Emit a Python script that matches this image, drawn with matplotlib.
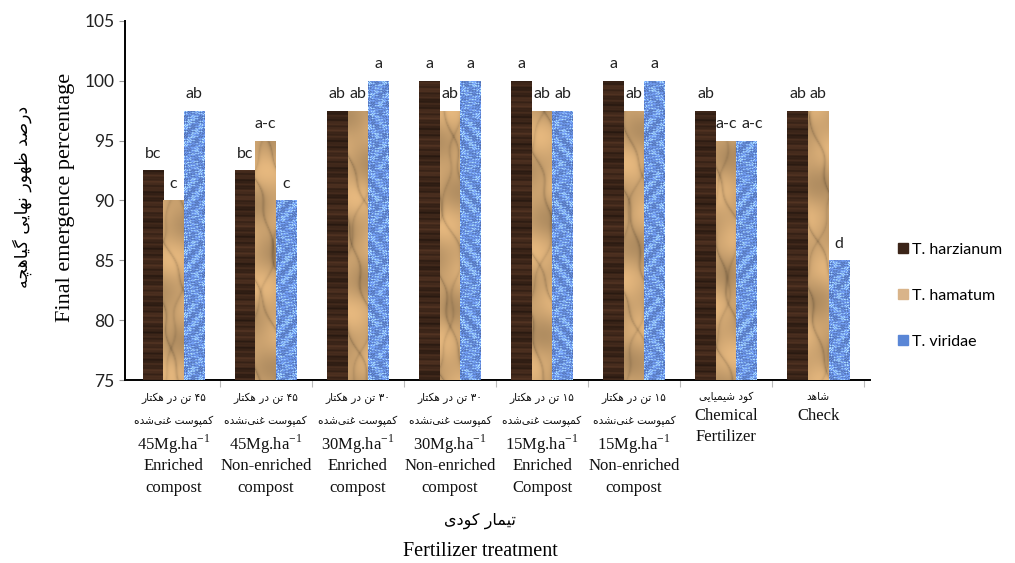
import numpy as np
import matplotlib
matplotlib.use("Agg")
import matplotlib.pyplot as plt
from matplotlib.lines import Line2D

plt.rcParams['mathtext.fontset'] = 'custom'
plt.rcParams['mathtext.rm'] = 'Liberation Serif'

# ---- data ----
groups = ['45E', '45N', '30E', '30N', '15E', '15N', 'chem', 'check']
harzianum = [92.5, 92.5, 97.5, 100, 100, 100, 97.5, 97.5]
hamatum = [90, 95, 97.5, 97.5, 97.5, 97.5, 95, 97.5]
viridae = [97.5, 90, 100, 100, 97.5, 100, 95, 85]
harz_letters = ['bc', 'bc', 'ab', 'a', 'a', 'a', 'ab', 'ab']
ham_letters = ['c', 'a-c', 'ab', 'ab', 'ab', 'ab', 'a-c', 'ab']
vir_letters = ['ab', 'c', 'a', 'a', 'ab', 'a', 'a-c', 'd']
species = ['T. harzianum', 'T. hamatum', 'T. viridae']

# tick label lines: (persian lines, english lines)
tick_lines = [
    (['۴۵ تن در هکتار', 'کمپوست غنی\u200cشده'], ['45Mg.ha$^{-1}$', 'Enriched', 'compost']),
    (['۴۵ تن در هکتار', 'کمپوست غنی\u200cنشده'], ['45Mg.ha$^{-1}$', 'Non-enriched', 'compost']),
    (['۳۰ تن در هکتار', 'کمپوست غنی\u200cشده'], ['30Mg.ha$^{-1}$', 'Enriched', 'compost']),
    (['۳۰ تن در هکتار', 'کمپوست غنی\u200cنشده'], ['30Mg.ha$^{-1}$', 'Non-enriched', 'compost']),
    (['۱۵ تن در هکتار', 'کمپوست غنی\u200cشده'], ['15Mg.ha$^{-1}$', 'Enriched', 'Compost']),
    (['۱۵ تن در هکتار', 'کمپوست غنی\u200cنشده'], ['15Mg.ha$^{-1}$', 'Non-enriched', 'compost']),
    (['کود شیمیایی'], ['Chemical', 'Fertilizer']),
    (['شاهد'], ['Check']),
]
ylabel_fa = 'درصد ظهور نهایی گیاهچه'
xlabel_fa = 'تیمار کودی'

# ---- minimal Persian shaping (isolated, final, initial, medial) ----
FORMS = {
    '\u0627': ('\uFE8D', '\uFE8E', None, None),
    '\u062A': ('\uFE95', '\uFE96', '\uFE97', '\uFE98'),
    '\u0686': ('\uFB7A', '\uFB7B', '\uFB7C', '\uFB7D'),
    '\u062F': ('\uFEA9', '\uFEAA', None, None),
    '\u0631': ('\uFEAD', '\uFEAE', None, None),
    '\u0633': ('\uFEB1', '\uFEB2', '\uFEB3', '\uFEB4'),
    '\u0634': ('\uFEB5', '\uFEB6', '\uFEB7', '\uFEB8'),
    '\u0635': ('\uFEB9', '\uFEBA', '\uFEBB', '\uFEBC'),
    '\u0638': ('\uFEC5', '\uFEC6', '\uFEC7', '\uFEC8'),
    '\u063A': ('\uFECD', '\uFECE', '\uFECF', '\uFED0'),
    '\u0645': ('\uFEE1', '\uFEE2', '\uFEE3', '\uFEE4'),
    '\u0646': ('\uFEE5', '\uFEE6', '\uFEE7', '\uFEE8'),
    '\u0647': ('\uFEE9', '\uFEEA', '\uFEEB', '\uFEEC'),
    '\u0648': ('\uFEED', '\uFEEE', None, None),
    '\u067E': ('\uFB56', '\uFB57', '\uFB58', '\uFB59'),
    '\u06A9': ('\uFB8E', '\uFB8F', '\uFB90', '\uFB91'),
    '\u06AF': ('\uFB92', '\uFB93', '\uFB94', '\uFB95'),
    '\u06CC': ('\uFBFC', '\uFBFD', '\uFBFE', '\uFBFF'),
}
DIGITS = set('0123456789۰۱۲۳۴۵۶۷۸۹')


def fa(s):
    out = []
    for i, c in enumerate(s):
        if c not in FORMS:
            if c != '\u200c':
                out.append(c)
            continue
        iso, fin, ini, med = FORMS[c]
        prev = s[i - 1] if i > 0 else ''
        nxt = s[i + 1] if i + 1 < len(s) else ''
        jp = prev in FORMS and FORMS[prev][2] is not None
        jn = ini is not None and nxt in FORMS
        if jp and jn:
            out.append(med)
        elif jp:
            out.append(fin)
        elif jn:
            out.append(ini)
        else:
            out.append(iso)
    # visual order: reverse everything except digit runs
    runs, cur, cur_d = [], '', None
    for c in out:
        d = c in DIGITS
        if cur and d != cur_d:
            runs.append((cur, cur_d))
            cur = ''
        cur += c
        cur_d = d
    if cur:
        runs.append((cur, cur_d))
    return ''.join(r if d else r[::-1] for r, d in reversed(runs))


# ---- bar textures ----
def texture(kind, rows, cols, phase):
    y, x = np.mgrid[0:rows, 0:cols].astype(float)
    if kind == 0:
        base = np.array([0.24, 0.15, 0.10])
        m = (0.10 * np.sin(y * 0.9 + phase) + 0.08 * np.sin(y * 0.23 + 2 * phase)
             + 0.05 * np.sin(y * 2.1 + x * 0.05))
        img = base[None, None, :] * (1 + 1.6 * m[..., None])
    elif kind == 1:
        base = np.array([0.80, 0.64, 0.44])
        warp = 3 * np.sin(0.045 * y + phase) + 2 * np.sin(0.13 * y + 2 * phase)
        m = (0.07 * np.sin(0.09 * x + 0.05 * y + phase)
             + 0.06 * np.sin(0.03 * x - 0.11 * y + 2 * phase)
             - 0.20 * np.exp(-np.abs(np.sin(0.035 * y + 0.12 * (x + warp) + phase)) * 7)
             - 0.12 * np.exp(-np.abs(np.sin(0.021 * y - 0.09 * (x - warp) + 3 * phase)) * 8))
        img = base[None, None, :] * (1 + m[..., None])
    else:
        base = np.array([0.42, 0.58, 0.90])
        s = (np.sin(x * 1.3 + np.sin(y * 0.7 + phase) * 2.5)
             * np.sin(y * 1.1 + np.sin(x * 0.9 + phase) * 2.0))
        img = base[None, None, :] * (1 + 0.28 * s[..., None])
        img = img + 0.18 * (s > 0.6)[..., None]
    return np.clip(img, 0, 1)


fig = plt.figure(figsize=(10.15, 5.63), dpi=100)
ax = fig.add_axes([0.123, 0.325, 0.734, 0.638])

x = np.arange(len(groups))
w = 0.223
colors = ['#3b2418', '#d9b48a', '#5a86d6']
series = [harzianum, hamatum, viridae]
letters = [harz_letters, ham_letters, vir_letters]
y0 = 75

for k, (vals, lets) in enumerate(zip(series, letters)):
    xs = x + (k - 1) * w
    bars = ax.bar(xs, np.array(vals) - y0, w, bottom=y0, color=colors[k],
                  linewidth=0, zorder=2)
    for i, (b, v, lab) in enumerate(zip(bars, vals, lets)):
        rows = int((v - y0) * 12)
        tex = texture(k, 360, 20, i * 1.7 + k)[:rows]
        im = ax.imshow(tex, extent=(b.get_x(), b.get_x() + w, y0, v),
                       origin='lower', aspect='auto', zorder=3,
                       interpolation='bilinear')
        im.set_clip_path(b)
        # nudge a trailing "a-c" so it clears its neighbour
        dx = 0.06 if (k == 2 and lab == 'a-c') else 0
        ax.text(b.get_x() + w / 2 + dx, v + 0.8, lab, ha='center', va='bottom',
                fontsize=11.5, family='Lato', color='#222222', zorder=4)

ax.set_xlim(-0.53, 7.56)
ax.set_ylim(75, 105)
ax.set_yticks(np.arange(75, 106, 5))
ax.tick_params(axis='y', labelsize=12.5, length=4, color='#999999',
               labelcolor='#222222')
for t in ax.get_yticklabels():
    t.set_family('Lato')
ax.set_xticks(x + 0.5)
ax.set_xticklabels([])
ax.tick_params(axis='x', length=5, color='#bbbbbb', direction='out')
for s in ['top', 'right']:
    ax.spines[s].set_visible(False)
for s in ['left', 'bottom']:
    ax.spines[s].set_linewidth(1.4)
    ax.spines[s].set_color('black')

# multi-line category labels below the axis
px = 0.72
for i, (fa_lines, en_lines) in enumerate(tick_lines):
    offs = [18, 41, 64, 86, 108] if len(fa_lines) == 2 else [17, 36, 57]
    lines = [(fa(t), 'fa') for t in fa_lines] + [(t, 'en') for t in en_lines]
    for (txt, lang), off in zip(lines, offs):
        if lang == 'fa':
            kw = dict(fontsize=7.6, family='DejaVu Sans')
        else:
            kw = dict(fontsize=12, family='Liberation Serif')
        ax.annotate(txt, xy=(i, 0), xycoords=('data', 'axes fraction'),
                    xytext=(0, -off * px), textcoords='offset points',
                    ha='center', va='center', color='#111111', **kw)

fig.text(0.065, 0.65, 'Final emergence percentage', rotation=90,
         ha='center', va='center', fontsize=16, family='Liberation Serif')
fig.text(0.022, 0.65, fa(ylabel_fa), rotation=90, ha='center', va='center',
         fontsize=12.5, family='DejaVu Sans')
fig.text(0.473, 0.075, fa(xlabel_fa), ha='center', va='center',
         fontsize=11.5, family='DejaVu Sans')
fig.text(0.473, 0.02, 'Fertilizer treatment', ha='center', va='center',
         fontsize=14.5, family='Liberation Serif')

handles = [Line2D([], [], marker='s', linestyle='none', markersize=7,
                  markerfacecolor=c, markeredgecolor=c) for c in colors]
leg = fig.legend(handles, species, loc='center left',
                 bbox_to_anchor=(0.868, 0.475), frameon=False,
                 labelspacing=2.0, handletextpad=0.05, handlelength=1.0,
                 prop={'family': 'Lato', 'size': 11.5})

fig.savefig('out.png', dpi=100)
